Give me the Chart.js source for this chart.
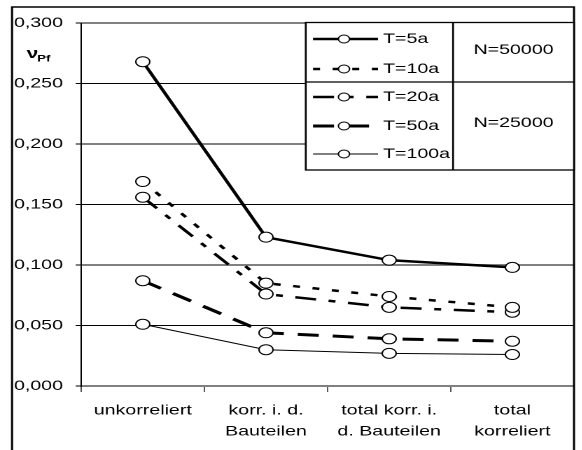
<!DOCTYPE html>
<html>
<head>
<meta charset="utf-8">
<script src="https://cdn.jsdelivr.net/npm/chart.js@4.4.0/dist/chart.umd.min.js"></script>
<style>
  html, body { margin: 0; padding: 0; background: #fff; overflow: hidden; }
  /* the reference is stretched horizontally, so draw narrow and stretch */
  #wrap { width: 416px; height: 450px; transform: scaleX(1.4); transform-origin: 0 0; }
</style>
</head>
<body>
<div id="wrap"><canvas id="chart"></canvas></div>
<script>
// Data
const categories = [
  ['unkorreliert'],
  ['korr. i. d.', 'Bauteilen'],
  ['total korr. i.', 'd. Bauteilen'],
  ['total', 'korreliert']
];
const seriesNames = ['T=5a', 'T=10a', 'T=20a', 'T=50a', 'T=100a'];
const t5 = [0.268, 0.123, 0.104, 0.098];
const t10 = [0.169, 0.085, 0.074, 0.065];
const t20 = [0.156, 0.076, 0.065, 0.061];
const t50 = [0.087, 0.044, 0.039, 0.037];
const t100 = [0.051, 0.030, 0.027, 0.026];
const groupLabels = ['N=50000', 'N=25000'];
const axisTitle = ['\u03bd', 'Pf'];

const FONT = "'Liberation Sans', Arial, sans-serif";

function ds(label, data, width, dash) {
  return {
    label: label,
    data: data,
    borderColor: '#000',
    borderWidth: width,
    borderDash: dash,
    pointRadius: 5,
    pointBorderWidth: 1,
    pointBorderColor: '#000',
    pointBackgroundColor: '#fff',
    fill: false,
    tension: 0
  };
}

// legend table, frame and axis title
const extras = {
  id: 'extras',
  afterDraw(chart) {
    const ctx = chart.ctx;
    const area = chart.chartArea;
    ctx.save();

    // outer frame
    ctx.strokeStyle = '#000';
    ctx.lineWidth = 1.5;
    ctx.beginPath();
    ctx.moveTo(8.6, 460);
    ctx.lineTo(8.6, 7);
    ctx.lineTo(area.right, 7);
    ctx.lineTo(area.right, 460);
    ctx.stroke();

    // axis title nu_Pf
    ctx.fillStyle = '#000';
    ctx.textAlign = 'left';
    ctx.textBaseline = 'alphabetic';
    ctx.font = 'bold 15px ' + FONT;
    ctx.fillText(axisTitle[0], 19, 58);
    ctx.font = 'bold 9.5px ' + FONT;
    ctx.fillText(axisTitle[1], 26.5, 61.5);

    // legend table
    const L = 218.4, M = 323.6, R = area.right, T = 22.5, H = 82, B = 170;
    ctx.fillStyle = '#fff';
    ctx.fillRect(L, T, R - L, B - T);
    ctx.strokeStyle = '#000';
    ctx.lineWidth = 1.3;
    ctx.strokeRect(L, T, R - L, B - T);
    ctx.beginPath();
    ctx.moveTo(L, H); ctx.lineTo(R, H);
    ctx.moveTo(M, T); ctx.lineTo(M, B);
    ctx.stroke();

    const rowsY = [39, 69, 97, 126, 154];
    chart.data.datasets.forEach((d, i) => {
      const y = rowsY[i];
      ctx.strokeStyle = '#000';
      ctx.lineWidth = d.borderWidth;
      ctx.setLineDash(d.borderDash || []);
      ctx.beginPath();
      ctx.moveTo(223.6, y);
      ctx.lineTo(270, y);
      ctx.stroke();
      ctx.setLineDash([]);
      ctx.lineWidth = 1;
      ctx.beginPath();
      ctx.arc(245.7, y, 4, 0, Math.PI * 2);
      ctx.fillStyle = '#fff';
      ctx.fill();
      ctx.stroke();
      ctx.fillStyle = '#000';
      ctx.font = '14px ' + FONT;
      ctx.textAlign = 'left';
      ctx.textBaseline = 'middle';
      ctx.fillText(d.label, 273.6, y);
    });

    ctx.textAlign = 'center';
    ctx.textBaseline = 'middle';
    ctx.font = '14px ' + FONT;
    ctx.fillText(groupLabels[0], (M + R) / 2, 50);
    ctx.fillText(groupLabels[1], (M + R) / 2, 123);
    ctx.restore();
  }
};

const chart = new Chart(document.getElementById('chart'), {
  type: 'line',
  data: {
    labels: categories,
    datasets: [
      ds(seriesNames[0], t5, 2.5, []),
      ds(seriesNames[1], t10, 2.5, [5, 9]),
      ds(seriesNames[2], t20, 2.5, [15, 9, 5, 9]),
      ds(seriesNames[3], t50, 3, [15, 10]),
      ds(seriesNames[4], t100, 1, [])
    ]
  },
  options: {
    responsive: true,
    maintainAspectRatio: false,
    devicePixelRatio: 2,
    animation: false,
    layout: { padding: { left: 0, right: 4.6, top: 23, bottom: 0 } },
    plugins: {
      legend: { display: false },
      tooltip: { enabled: false }
    },
    scales: {
      x: {
        type: 'category',
        offset: true,
        afterFit: (scale) => { scale.height = 64; },
        grid: {
          offset: true,
          drawOnChartArea: false,
          drawTicks: true,
          tickLength: 6,
          color: '#555',
          lineWidth: 1
        },
        border: { color: '#808080', width: 2 },
        ticks: {
          color: '#000',
          padding: 8,
          maxRotation: 0,
          autoSkip: false,
          font: { family: FONT, size: 14, lineHeight: 1.5 }
        }
      },
      y: {
        min: 0,
        max: 0.3,
        afterFit: (scale) => { scale.width = 58; },
        grid: {
          color: (c) => (c.index % 2 === 0 ? '#808080' : '#000'),
          lineWidth: (c) => (c.index % 2 === 0 ? 2 : 1),
          tickLength: 4
        },
        border: { color: '#000', width: 1 },
        ticks: {
          stepSize: 0.05,
          color: '#000',
          padding: 9,
          font: { family: FONT, size: 14 },
          callback: (v) => v.toFixed(3).replace('.', ',')
        }
      }
    }
  },
  plugins: [extras]
});
</script>
</body>
</html>
